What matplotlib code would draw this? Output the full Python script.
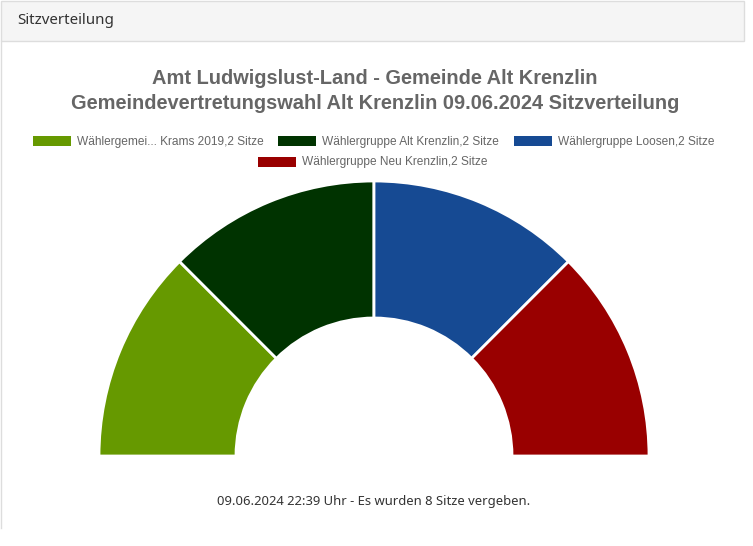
import matplotlib.pyplot as plt
from matplotlib.patches import Rectangle

# seat distribution
parties = ["Wählergemei... Krams 2019", "Wählergruppe Alt Krenzlin",
           "Wählergruppe Loosen", "Wählergruppe Neu Krenzlin"]
seats = [2, 2, 2, 2]
colors = ["#669900", "#003300", "#164a93", "#990000"]

title = ("Amt Ludwigslust-Land - Gemeinde Alt Krenzlin\n"
         "Gemeindevertretungswahl Alt Krenzlin 09.06.2024 Sitzverteilung")
header = "Sitzverteilung"
footer = "09.06.2024 22:39 Uhr - Es wurden {} Sitze vergeben.".format(sum(seats))

W, H = 753, 546
fig = plt.figure(figsize=(W / 100, H / 100), dpi=100)
ax = fig.add_axes([0, 0, 1, 1])

# half donut: the second half is a hidden dummy wedge
wedges, _ = ax.pie(seats + [sum(seats)], colors=colors + ["white"],
                   startangle=180, counterclock=True,
                   center=(374, 456), radius=275,
                   wedgeprops=dict(width=137, edgecolor="white", linewidth=2))
wedges[-1].set_visible(False)

ax.set_xlim(0, W)
ax.set_ylim(H, 0)
ax.axis("off")

# panel header + border
ax.add_patch(Rectangle((1, 0.5), 743, 40.5, facecolor="#f5f5f5",
                       edgecolor="#dddddd", linewidth=1, zorder=0))
ax.plot([1.5, 1.5], [41, 528], color="#dddddd", linewidth=1)
ax.text(17, 21, header, fontsize=10.9, color="#333333", family="Noto Sans",
        va="center", ha="left")

ax.text(375, 91, title, fontsize=14.4, color="#666666", weight="bold",
        family="Liberation Sans", ha="center", va="center", linespacing=1.42)

# legend
leg_x = [33, 278, 514, 258]
leg_y = [141, 141, 141, 162]
for name, n, c, lx, ly in zip(parties, seats, colors, leg_x, leg_y):
    ax.add_patch(Rectangle((lx, ly - 5), 38, 10, facecolor=c, edgecolor="none"))
    ax.text(lx + 44, ly + 0.5, "{},{} Sitze".format(name, n), fontsize=8.6,
            color="#666666", family="Liberation Sans", va="center", ha="left")

ax.text(374, 502, footer, fontsize=9.4, color="#333333", family="Noto Sans",
        ha="center", va="center")

fig.savefig("out.png", dpi=100)
